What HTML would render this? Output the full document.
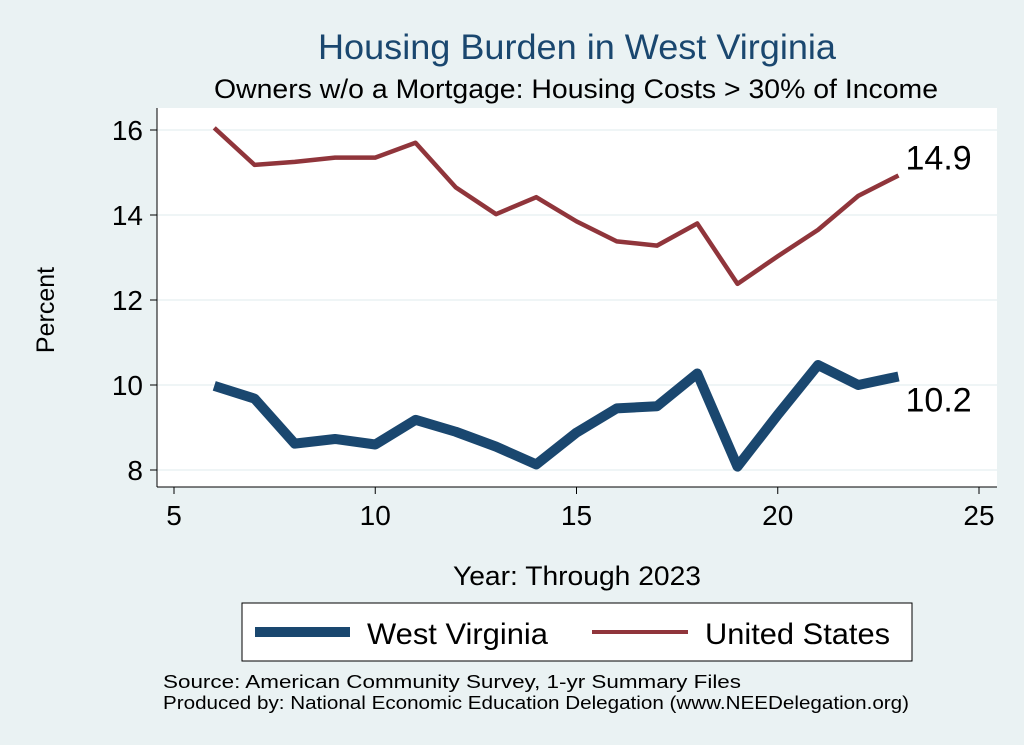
<!DOCTYPE html>
<html><head><meta charset="utf-8"><style>
body{margin:0;background:#eaf2f3;}
svg{display:block;font-family:"Liberation Sans",sans-serif;}
</style></head><body>
<svg id="chart" width="1024" height="745">
<rect x="0" y="0" width="1024" height="745" fill="#eaf2f3"/>
<text x="577" y="59" font-size="35" fill="#1a476f" text-anchor="middle" textLength="518" lengthAdjust="spacingAndGlyphs">Housing Burden in West Virginia</text>
<text x="576" y="98" font-size="27" fill="#000" text-anchor="middle" textLength="724" lengthAdjust="spacingAndGlyphs">Owners w/o a Mortgage: Housing Costs &gt; 30% of Income</text>
<rect x="157" y="108" width="840" height="379" fill="#fff"/>
<g id="grid"></g>
<g id="axes"></g>
<g id="series"></g>
<text transform="translate(54,310) rotate(-90)" font-size="25" text-anchor="middle">Percent</text>
<text x="577" y="585" font-size="27" text-anchor="middle" textLength="248" lengthAdjust="spacingAndGlyphs">Year: Through 2023</text>
<g>
<rect x="242" y="603" width="670" height="58" fill="#fff" stroke="#000" stroke-width="1"/>
<line x1="255" y1="632" x2="350" y2="632" stroke="#1a476f" stroke-width="10"/>
<text x="367" y="644" font-size="30" textLength="181" lengthAdjust="spacingAndGlyphs">West Virginia</text>
<line x1="592" y1="632" x2="688" y2="632" stroke="#90353b" stroke-width="4"/>
<text x="705" y="644" font-size="30" textLength="185" lengthAdjust="spacingAndGlyphs">United States</text>
</g>
<text x="163" y="688" font-size="18" textLength="578" lengthAdjust="spacingAndGlyphs">Source: American Community Survey, 1-yr Summary Files</text>
<text x="163" y="709" font-size="18" textLength="746" lengthAdjust="spacingAndGlyphs">Produced by: National Economic Education Delegation (www.NEEDelegation.org)</text>
</svg>
<script>
const years=[6,7,8,9,10,11,12,13,14,15,16,17,18,19,20,21,22,23];
const usValues=[16.05,15.18,15.25,15.35,15.35,15.7,14.65,14.02,14.42,13.85,13.38,13.28,13.8,12.38,13.03,13.65,14.45,14.93];
const wvValues=[9.98,9.68,8.62,8.73,8.6,9.18,8.9,8.55,8.13,8.88,9.45,9.5,10.27,8.08,9.3,10.47,10.0,10.2];
const xTicks=[5,10,15,20,25];
const yTicks=[8,10,12,14,16];
const NS="http://www.w3.org/2000/svg";
function X(v){return 174+(v-5)*40.25;}
function Y(v){return 470-(v-8)*42.5;}
function mk(tag,attrs,parent){const e=document.createElementNS(NS,tag);for(const k in attrs)e.setAttribute(k,attrs[k]);parent.appendChild(e);return e;}
const grid=document.getElementById('grid'),axes=document.getElementById('axes'),series=document.getElementById('series');
yTicks.forEach(t=>{
 const g=mk('line',{x1:157,x2:997,y1:Y(t),y2:Y(t),stroke:'#eaf2f3','stroke-width':1.5},grid);
 
 
 const tk=mk('line',{x1:150,x2:157,y1:Y(t),y2:Y(t),stroke:'#000','stroke-width':1},axes);
 
 
 const l=mk('text',{x:143,y:Y(t)+10,'font-size':28,'text-anchor':'end'},axes);
 l.textContent=t;
 
 
});
xTicks.forEach(t=>{
 const tk=mk('line',{x1:X(t),x2:X(t),y1:487,y2:494,stroke:'#000','stroke-width':1},axes);
 
 
 const l=mk('text',{x:X(t),y:525,'font-size':28,'text-anchor':'middle'},axes);
 l.textContent=t;
 
 
});
const ya=mk('line',{x1:157,x2:157,y1:108,y2:487,stroke:'#000','stroke-width':1},axes);


const xa=mk('line',{x1:157,x2:997,y1:487,y2:487,stroke:'#000','stroke-width':1},axes);


function pts(vals){return years.map((y,i)=>X(y)+','+Y(vals[i])).join(' ');}
const us=mk('polyline',{points:pts(usValues),fill:'none',stroke:'#90353b','stroke-width':4.5,'stroke-linejoin':'round'},series);


const wv=mk('polyline',{points:pts(wvValues),fill:'none',stroke:'#1a476f','stroke-width':10,'stroke-linejoin':'round'},series);


const n=years.length-1;
const ul=mk('text',{x:X(years[n])+7,y:Y(usValues[n])-6,'font-size':34},series);
ul.textContent=usValues[n].toFixed(1);


const wl=mk('text',{x:X(years[n])+7,y:Y(wvValues[n])+35,'font-size':34},series);
wl.textContent=wvValues[n].toFixed(1);


</script>
</body></html>
